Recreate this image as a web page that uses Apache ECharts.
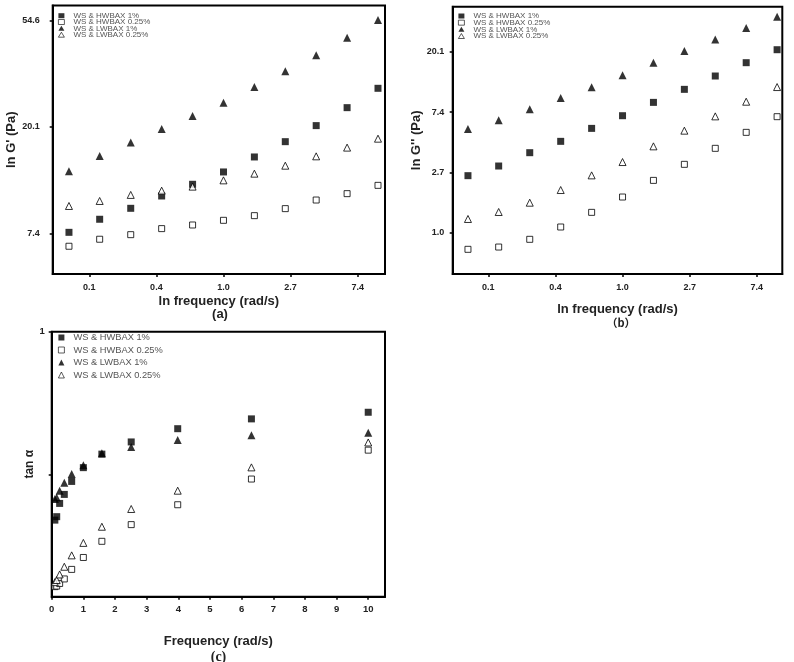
<!DOCTYPE html>
<html><head><meta charset="utf-8">
<script src="https://cdn.jsdelivr.net/npm/echarts@6/dist/echarts.min.js"></script>
<style>html,body{margin:0;padding:0;background:#fff}#c{width:794px;height:662px}</style>
</head><body><div id="c"></div>
<script>
// angular frequencies (rad/s)
const freq = [0.1, 0.158, 0.251, 0.398, 0.631, 1.0, 1.585, 2.512, 3.981, 6.310, 10.0];
const names = ['WS & HWBAX 1%', 'WS & HWBAX 0.25%', 'WS & LWBAX 1%', 'WS & LWBAX 0.25%'];

// (a) ln G'
const lnGp_H1   = [2.009, 2.132, 2.235, 2.351, 2.461, 2.577, 2.718, 2.862, 3.013, 3.182, 3.364];
const lnGp_H025 = [1.878, 1.944, 1.987, 2.044, 2.078, 2.122, 2.166, 2.232, 2.313, 2.373, 2.451];
const lnGp_L1   = [2.583, 2.727, 2.853, 2.981, 3.103, 3.229, 3.376, 3.524, 3.674, 3.840, 4.006];
const lnGp_L025 = [2.257, 2.304, 2.361, 2.401, 2.439, 2.498, 2.561, 2.636, 2.724, 2.806, 2.890];
// (b) ln G''
const lnGpp_H1   = [0.945, 1.105, 1.326, 1.514, 1.729, 1.939, 2.160, 2.376, 2.597, 2.818, 3.033];
const lnGpp_H025 = [-0.276, -0.238, -0.110, 0.094, 0.337, 0.591, 0.867, 1.133, 1.398, 1.663, 1.923];
const lnGpp_L1   = [1.718, 1.862, 2.044, 2.232, 2.409, 2.608, 2.818, 3.011, 3.204, 3.392, 3.580];
const lnGpp_L025 = [0.227, 0.343, 0.497, 0.707, 0.950, 1.171, 1.431, 1.691, 1.928, 2.171, 2.414];
// (c) tan
const tan_H1   = [0.289, 0.302, 0.352, 0.386, 0.435, 0.487, 0.538, 0.584, 0.634, 0.671, 0.696];
const tan_H025 = [0.038, 0.040, 0.050, 0.067, 0.103, 0.148, 0.209, 0.272, 0.347, 0.444, 0.553];
const tan_L1   = [0.369, 0.374, 0.400, 0.430, 0.463, 0.496, 0.541, 0.565, 0.591, 0.609, 0.619];
const tan_L025 = [0.055, 0.063, 0.084, 0.113, 0.156, 0.203, 0.264, 0.331, 0.400, 0.488, 0.582];

// tick positions and labels
const lnFreqTicks  = [-2, -1, 0, 1, 2];
const lnFreqLabels = ['0.1', '0.4', '1.0', '2.7', '7.4'];
const aTicks  = [2, 3, 4];
const aLabels = ['7.4', '20.1', '54.6'];
const bTicks  = [0, 1, 2, 3];
const bLabels = ['1.0', '2.7', '7.4', '20.1'];
const cXTicks = [0, 1, 2, 3, 4, 5, 6, 7, 8, 9, 10];
const cYTicks = [0.46, 1];
const cYLabelTicks = [1];
const cYLabels = ['1'];

const FONT = 'Liberation Sans, Arial, sans-serif';
const lab = (ticks, labels) => v => {
  const i = ticks.findIndex(t => Math.abs(t - v) < 1e-6);
  return i >= 0 ? labels[i] : '';
};

const symbols = ['rect', 'rect', 'triangle', 'triangle'];
const filled = [true, false, true, false];
const sizes = [7, 6, 8, 7];

function mkSeries(gi, xs, ys) {
  return ys.map((arr, k) => ({
    type: 'scatter', name: names[k], xAxisIndex: gi, yAxisIndex: gi,
    symbol: symbols[k], symbolSize: sizes[k],
    itemStyle: filled[k] ? { color: '#000' } : { color: '#fff', borderColor: '#000', borderWidth: 1 },
    data: arr.map((v, i) => [xs[i], v]),
    emphasis: { disabled: true }
  }));
}

const lnFreq = freq.map(f => Math.log(f));

function xAxisBase(gi, min, max, ticks, labels, fs, margin, name, gap) {
  return {
    type: 'value', gridIndex: gi, min, max,
    axisLine: { onZero: false, lineStyle: { color: '#000', width: 2 } },
    axisTick: { show: true, inside: false, length: 3, customValues: ticks, lineStyle: { color: '#000', width: 1.5 } },
    axisLabel: { customValues: ticks, formatter: lab(ticks, labels), fontFamily: FONT, fontWeight: 'bold', fontSize: fs, color: '#222', margin },
    splitLine: { show: false },
    name, nameLocation: 'middle', nameGap: gap,
    nameTextStyle: { fontFamily: FONT, fontWeight: 'bold', fontSize: 13, color: '#222' }
  };
}
function yAxisBase(gi, min, max, ticks, lticks, labels, fs, margin, name, gap, nfs) {
  return {
    type: 'value', gridIndex: gi, min, max,
    axisLine: { onZero: false, lineStyle: { color: '#000', width: 2 } },
    axisTick: { show: true, inside: false, length: 3, customValues: ticks, lineStyle: { color: '#000', width: 1.5 } },
    axisLabel: { customValues: lticks, formatter: lab(lticks, labels), fontFamily: FONT, fontWeight: 'bold', fontSize: fs, color: '#222', margin },
    splitLine: { show: false },
    name, nameLocation: 'middle', nameGap: gap,
    nameTextStyle: { fontFamily: FONT, fontWeight: 'bold', fontSize: nfs, color: '#222' }
  };
}

function mkLegend(left, top, fs, gap, ih) {
  return {
    orient: 'vertical', left, top, padding: 0, itemWidth: 6, itemHeight: ih, itemGap: gap,
    data: names, selectedMode: false,
    itemStyle: { borderWidth: 0.8 },
    textStyle: { fontFamily: FONT, fontSize: fs, color: '#555', padding: [0, 0, 0, 4] }
  };
}

const chart = echarts.init(document.getElementById('c'), null, { renderer: 'canvas' });
chart.setOption({
  animation: false,
  backgroundColor: '#fff',
  grid: [
    { left: 52.7, top: 5.5, width: 332.3, height: 268.5, show: true, borderColor: '#000', borderWidth: 2 },
    { left: 452.7, top: 6.7, width: 329.6, height: 267.3, show: true, borderColor: '#000', borderWidth: 2 },
    { left: 51.7, top: 331.7, width: 333.3, height: 265, show: true, borderColor: '#000', borderWidth: 2 }
  ],
  xAxis: [
    xAxisBase(0, -2.545, 2.407, lnFreqTicks, lnFreqLabels, 9, 9, 'ln frequency (rad/s)', 21),
    xAxisBase(1, -2.53, 2.38, lnFreqTicks, lnFreqLabels, 9, 9, 'ln frequency (rad/s)', 29),
    xAxisBase(2, 0, 10.53, cXTicks, cXTicks.map(String), 9.5, 8, 'Frequency (rad/s)', 38)
  ],
  yAxis: [
    yAxisBase(0, 1.617, 4.143, aTicks, aTicks, aLabels, 9, 13, "ln G' (Pa)", 27, 13),
    yAxisBase(1, -0.685, 3.746, bTicks, bTicks, bLabels, 9, 8.5, "ln G'' (Pa)", 28, 13),
    yAxisBase(2, 0, 1, cYTicks, cYLabelTicks, cYLabels, 9.5, 7, 'tan α', 16, 12)
  ],
  legend: [
    mkLegend(58, 11.7, 8, -1.67, 5),
    mkLegend(458, 12, 8, -1.33, 5),
    mkLegend(58, 333, 9.3, 3.5, 6)
  ],
  series: [
    ...mkSeries(0, lnFreq, [lnGp_H1, lnGp_H025, lnGp_L1, lnGp_L025]),
    ...mkSeries(1, lnFreq, [lnGpp_H1, lnGpp_H025, lnGpp_L1, lnGpp_L025]),
    ...mkSeries(2, freq, [tan_H1, tan_H025, tan_L1, tan_L025])
  ],
  graphic: [
    { type: 'text', x: 220, y: 314, style: { text: '(a)', align: 'center', verticalAlign: 'middle', font: 'bold 13px Liberation Sans, Arial, sans-serif', fill: '#222' } },
    { type: 'text', x: 621, y: 323, style: { text: '（b）', align: 'center', verticalAlign: 'middle', font: 'bold 11px Noto Sans CJK SC, sans-serif', fill: '#222' } },
    { type: 'text', x: 218.5, y: 657, style: { text: '(c)', align: 'center', verticalAlign: 'middle', font: 'bold 14px Liberation Serif, Times New Roman, serif', fill: '#222' } }
  ]
});
</script>
</body></html>
